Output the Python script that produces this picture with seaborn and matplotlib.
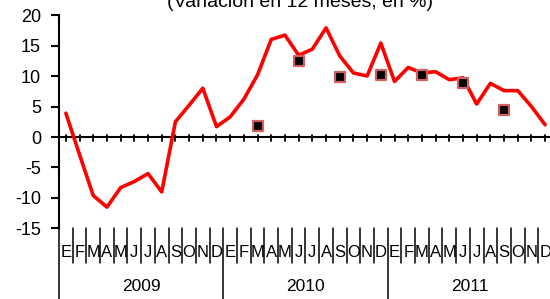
import matplotlib
matplotlib.use("Agg")
import matplotlib.pyplot as plt
import seaborn as sns
import pandas as pd
from matplotlib.lines import Line2D

# monthly series, 2009-2011
months = ["E", "F", "M", "A", "M", "J", "J", "A", "S", "O", "N", "D"] * 3
years = ["2009", "2010", "2011"]
var_12m = [3.9, -2.9, -9.6, -11.5, -8.3, -7.3, -6.0, -9.0, 2.5, 5.2, 8.0, 1.7,
           3.3, 6.2, 10.2, 16.0, 16.7, 13.4, 14.4, 17.9, 13.3, 10.5, 10.0, 15.4,
           9.1, 11.4, 10.5, 10.7, 9.4, 9.7, 5.4, 8.8, 7.6, 7.6, 5.0, 2.0]
# quarterly points
q_idx = [14, 17, 20, 23, 26, 29, 32]
q_vals = [1.8, 12.4, 9.8, 10.1, 10.1, 8.9, 4.4]

df = pd.DataFrame({"i": range(len(var_12m)), "v": var_12m})
dq = pd.DataFrame({"i": q_idx, "v": q_vals})

sns.set_style("white")
plt.rcParams["font.family"] = ["Liberation Sans", "DejaVu Sans"]
plt.rcParams["axes.unicode_minus"] = False
plt.rcParams["text.color"] = "black"
plt.rcParams["ytick.color"] = "black"
plt.rcParams["ytick.labelcolor"] = "black"

fig = plt.figure(figsize=(5.5, 2.99), dpi=100)
ax = fig.add_axes([0.1073, 0.2358, 0.8963, 0.714])

sns.lineplot(data=df, x="i", y="v", color="#FF0000", linewidth=2.6, ax=ax, zorder=3)
sns.scatterplot(data=dq, x="i", y="v", marker="s", s=60, color="black",
                edgecolor="#D06060", linewidth=1.6, ax=ax, zorder=4)

ax.set_xlim(-0.5, 35.5)
ax.set_ylim(-15, 20)
ax.set_yticks(range(-15, 21, 5))
ax.set_xticks([])
ax.set_xlabel("")
ax.set_ylabel("")
for s in ["top", "right", "bottom"]:
    ax.spines[s].set_visible(False)
ax.spines["left"].set_linewidth(1.5)
ax.spines["left"].set_color("black")
ax.tick_params(axis="y", direction="out", length=6, width=1.5, pad=7,
               labelsize=13, left=True, color="black", labelcolor="black")

# zero line with ticks at month centres
ax.axhline(0, color="black", linewidth=1.5, zorder=2)
for i in range(len(months)):
    ax.plot([i, i], [-0.7, 0.4], color="black", linewidth=1.3, zorder=2)

# category axis below
fig_bottom = -0.2358 / 0.714
tr = ax.get_xaxis_transform()
for k in range(len(months) + 1):
    x = k - 0.5
    y0 = fig_bottom if k % 12 == 0 else -0.162
    ax.add_line(Line2D([x, x], [0, y0], transform=tr, color="black",
                       linewidth=1.1, clip_on=False))
for i, m in enumerate(months):
    ax.text(i, -0.113, m, transform=tr, ha="center", va="center",
            fontsize=12, color="black", clip_on=False)
for j, yr in enumerate(years):
    ax.text(j * 12 + 5.5, -0.273, yr, transform=tr, ha="center", va="center",
            fontsize=12.5, color="black", clip_on=False)

fig.text(0.545, 0.975, "(Variación en 12 meses, en %)", ha="center",
         va="baseline", fontsize=14, color="black")

fig.savefig("out.png", dpi=100)
